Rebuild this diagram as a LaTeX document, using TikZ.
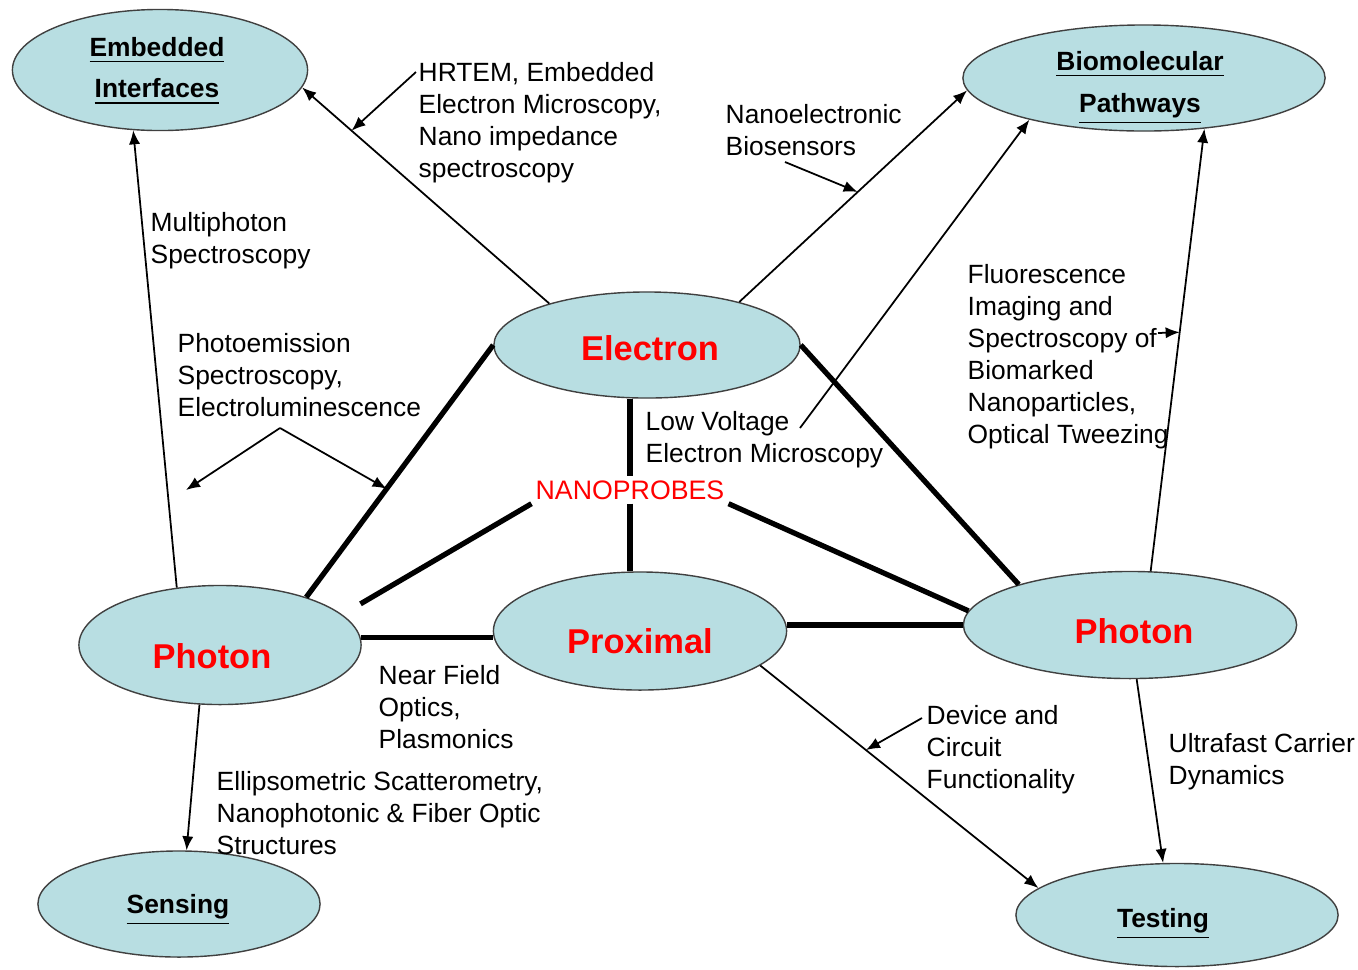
\documentclass[tikz,border=0pt]{standalone}
\usepackage{fontspec}
\setmainfont{Liberation Sans}
\usepackage{tikz}
\usetikzlibrary{arrows.meta,shapes.geometric}
\definecolor{blobfill}{RGB}{184,222,226}
\definecolor{probered}{RGB}{255,0,0}

\begin{document}
\begin{tikzpicture}[
        x=0.01cm, y=-0.01cm,
        blob/.style={ellipse, draw=black!75, line width=0.4pt, fill=blobfill, inner sep=0pt},
        goaltag/.style={align=center, inner sep=0pt, font=\fontsize{7.5}{11.8}\selectfont\bfseries},
        probetag/.style={inner sep=0pt, font=\fontsize{9.8}{11}\selectfont\bfseries, text=probered},
        note/.style={anchor=north west, align=left, inner sep=0pt, font=\fontsize{7.5}{9.1}\selectfont},
        link/.style={line width=1.5pt},
        arr/.style={-{Latex[length=4pt,width=3.2pt]}, line width=0.5pt}
    ]
        \useasboundingbox (0,0) rectangle (1358,969);

        \node[blob, minimum width=2.95cm, minimum height=1.21cm] (embedded) at (160,70) {};
        \node[blob, minimum width=3.62cm, minimum height=1.06cm] (bio) at (1144,78) {};
        \node[blob, minimum width=2.82cm, minimum height=1.06cm] (sensing) at (179,904) {};
        \node[blob, minimum width=3.22cm, minimum height=1.03cm] (testing) at (1177,915) {};
        \node[blob, minimum width=3.06cm, minimum height=1.06cm] (electron) at (647,345) {};
        \node[blob, minimum width=2.82cm, minimum height=1.19cm] (photonL) at (220,645) {};
        \node[blob, minimum width=2.93cm, minimum height=1.18cm] (proximal) at (640,631) {};
        \node[blob, minimum width=3.33cm, minimum height=1.07cm] (photonR) at (1130,625) {};

        \node[goaltag] (embeddedtag) at (157,71) {\underline{Embedded}\\\underline{Interfaces}};
        \node[goaltag] (biotag) at (1140,88) {\underline{Biomolecular}\\\underline{Pathways}};
        \node[goaltag] (sensingtag) at (178,910) {\underline{Sensing}};
        \node[goaltag] (testingtag) at (1163,924) {\underline{Testing}};
        \node[probetag] (electrontag) at (650,348) {Electron};
        \node[probetag] (photonLtag) at (212,656) {Photon};
        \node[probetag] (proximaltag) at (640,641) {Proximal};
        \node[probetag] (photonRtag) at (1134,631) {Photon};
        \node[font=\fontsize{7.6}{9}\selectfont, text=probered, inner sep=1pt] (nano) at (630,490) {NANOPROBES};

        \node[note] (multi) at (150,212) {Multiphoton\\Spectroscopy};
        \node[note] (hrtem) at (418,62) {HRTEM, Embedded\\Electron Microscopy,\\Nano impedance\\spectroscopy};
        \node[note] (nanoel) at (725,104) {Nanoelectronic\\Biosensors};
        \node[note] (fluo) at (967,264) {Fluorescence\\Imaging and\\Spectroscopy of\\Biomarked\\Nanoparticles,\\Optical Tweezing};
        \node[note] (photoem) at (177,333) {Photoemission\\Spectroscopy,\\Electroluminescence};
        \node[note] (lowv) at (645,411) {Low Voltage\\Electron Microscopy};
        \node[note] (nearf) at (378,665) {Near Field\\Optics,\\Plasmonics};
        \node[note] (ellips) at (216,771) {Ellipsometric Scatterometry,\\Nanophotonic \& Fiber Optic\\Structures};
        \node[note] (device) at (926,705) {Device and\\Circuit\\Functionality};
        \node[note] (ultra) at (1168,733) {Ultrafast Carrier\\Dynamics};

        \draw[link] (electron.west) -- coordinate[pos=0.57] (petip) (photonL.29);
        \draw[link] (electron.east) -- (photonR.160);
        \draw[link] (electron.south -| nano) -- (nano.north);
        \draw[link] (nano.south) -- (proximal.north -| nano);
        \draw[link, shorten >=6pt] (nano.south west) -- (photonL.14);
        \draw[link] (nano.south east) -- (photonR.175);
        \draw[link] (photonL.3) -- (proximal.west |- photonL.3);
        \draw[link] (photonR.west) -- (proximal.east |- photonR.west);

        \draw[arr] (photonL.127) -- (embedded.246);
        \draw[arr] (electron.157) -- coordinate[pos=0.8] (hrtemtip) (embedded.-7);
        \draw[arr] (electron.25) -- coordinate[pos=0.52] (nanoeltip) (bio.184);
        \draw[arr] (photonR.69) -- coordinate[pos=0.54] (fluotip) (bio.-40);
        \draw[arr] (photonL.251) -- (sensing.82);
        \draw[arr] (proximal.-16) -- coordinate[pos=0.38] (devicetip) (testing.169);
        \draw[arr] (photonR.-83) -- (testing.105);

        \coordinate (hrtemfrom) at (416,72);
        \coordinate (nanoelfrom) at (785,162);
        \coordinate (fluofrom) at (1158,333);
        \coordinate (lowvfrom) at (800,428);
        \coordinate (peroot) at (280,428);
        \coordinate (peleft) at (186,490);
        \coordinate (devicefrom) at (922,718);
        \draw[arr] (hrtemfrom) -- (hrtemtip);
        \draw[arr] (nanoelfrom) -- (nanoeltip);
        \draw[arr] (fluofrom) -- (fluotip);
        \draw[arr] (lowvfrom) -- (bio.200);
        \draw[arr] (peroot) -- (peleft);
        \draw[arr] (peroot) -- (petip);
        \draw[arr] (devicefrom) -- (devicetip);
    \end{tikzpicture}
\end{document}
